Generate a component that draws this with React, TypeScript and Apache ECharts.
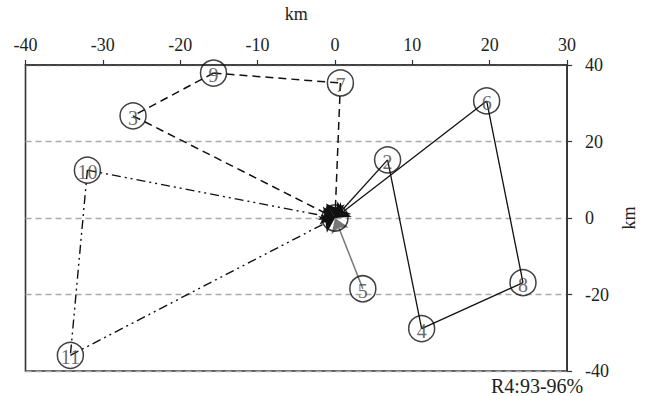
import React, { useEffect, useRef } from "react";
import * as echarts from "echarts";

const stationNames = ["1", "2", "3", "4", "5", "6", "7", "8", "9", "10", "11"];
const stationX = [0, 6.8, -26.1, 11.2, 3.6, 19.6, 0.7, 24.3, -15.7, -32.0, -34.2];
const stationY = [0, 15.2, 26.7, -28.9, -18.5, 30.6, 35.3, -16.9, 37.9, 12.5, -35.9];

const xTicks = [-40, -30, -20, -10, 0, 10, 20, 30];
const yTicks = [-40, -20, 0, 20, 40];

const dashedArrows = [["3", "1"], ["7", "1"]];
const dashedLinks = [["9", "7"], ["9", "3"]];
const dashDotArrows = [["10", "1"], ["11", "1"]];
const dashDotLinks = [["10", "11"]];
const solidArrows = [["2", "1"], ["6", "1"]];
const solidLinks = [["2", "4"], ["4", "8"], ["8", "6"]];
const grayArrows = [["5", "1"]];

const annotation = "R4:93-96%";

const SERIF = "'Liberation Serif', 'DejaVu Serif', serif";

function pos(name: string): [number, number] {
  const i = stationNames.indexOf(name);
  return [stationX[i], stationY[i]];
}

function linesSeries(
  pairs: string[][],
  color: string,
  type: any,
  arrow: boolean,
  width: number
) {
  return {
    type: "lines",
    coordinateSystem: "cartesian2d",
    polyline: false,
    symbol: arrow ? ["none", "arrow"] : ["none", "none"],
    symbolSize: arrow ? 14 : 0,
    silent: true,
    z: 3,
    lineStyle: { color, width, type, opacity: 1, curveness: 0 },
    data: pairs.map((p) => ({ coords: [pos(p[0]), pos(p[1])] })),
  };
}

export default function App() {
  const ref = useRef<HTMLDivElement>(null);

  useEffect(() => {
    if (!ref.current) return;
    const chart = echarts.init(ref.current, undefined, { renderer: "svg" });
    const dashPattern = [8, 5];
    const dashDot = [9, 4, 2, 4, 2, 4];
    chart.setOption({
      animation: false,
      backgroundColor: "#ffffff",
      textStyle: { fontFamily: SERIF },
      grid: {
        left: 25.5,
        right: 71.5,
        top: 62,
        bottom: 25,
        show: true,
        borderColor: "#333",
        borderWidth: 1.6,
        backgroundColor: "transparent",
      },
      xAxis: {
        type: "value",
        position: "top",
        min: xTicks[0],
        max: xTicks[xTicks.length - 1],
        interval: 10,
        name: "km",
        nameLocation: "middle",
        nameGap: 42,
        nameTextStyle: { fontFamily: SERIF, fontSize: 18, color: "#222" },
        axisLine: { show: true, onZero: false, lineStyle: { color: "#333", width: 1.6 } },
        axisTick: { show: true, inside: false, length: 5, lineStyle: { color: "#333", width: 1.2 } },
        axisLabel: { fontFamily: SERIF, fontSize: 18, color: "#222", margin: 11 },
        splitLine: { show: false },
      },
      yAxis: {
        type: "value",
        position: "right",
        min: yTicks[0],
        max: yTicks[yTicks.length - 1],
        interval: 20,
        name: "km",
        nameLocation: "middle",
        nameGap: 49,
        nameRotate: 90,
        nameTextStyle: { fontFamily: SERIF, fontSize: 18, color: "#222" },
        axisLine: { show: true, onZero: false, lineStyle: { color: "#333", width: 1.6 } },
        axisTick: { show: true, inside: false, length: 5, lineStyle: { color: "#333", width: 1.2 } },
        axisLabel: { fontFamily: SERIF, fontSize: 18, color: "#222", margin: 18 },
        splitLine: { show: true, lineStyle: { color: "#aaa", width: 1.3, type: [6, 4] } },
      },
      graphic: [
        {
          type: "text",
          left: 491,
          top: 376,
          style: { text: annotation, font: `20px ${SERIF}`, fill: "#222" },
          z: 10,
        },
      ],
      series: [
        linesSeries(dashedLinks, "#111", dashPattern, false, 1.5),
        linesSeries(dashedArrows, "#111", dashPattern, true, 1.5),
        linesSeries(dashDotLinks, "#111", dashDot, false, 1.4),
        linesSeries(dashDotArrows, "#111", dashDot, true, 1.4),
        linesSeries(solidLinks, "#111", "solid", false, 1.3),
        linesSeries(solidArrows, "#111", "solid", true, 1.3),
        linesSeries(grayArrows, "#777", "solid", true, 1.5),
        {
          type: "scatter",
          symbol: "circle",
          symbolSize: 26,
          z: 4,
          silent: true,
          itemStyle: { color: "rgba(255,255,255,0)", borderColor: "#111", borderWidth: 1.5 },
          label: {
            show: true,
            position: "inside",
            fontFamily: SERIF,
            fontSize: 20,
            color: "#444",
            offset: [0, 2],
            formatter: (p: any) => (p.data[2] === "1" ? "" : p.data[2]),
          },
          data: stationNames.map((n, i) => [stationX[i], stationY[i], n]),
        },
      ],
    });
    return () => chart.dispose();
  }, []);

  return (
    <div
      ref={ref}
      style={{ position: "absolute", left: 0, top: 0, width: 646, height: 396 }}
    />
  );
}
